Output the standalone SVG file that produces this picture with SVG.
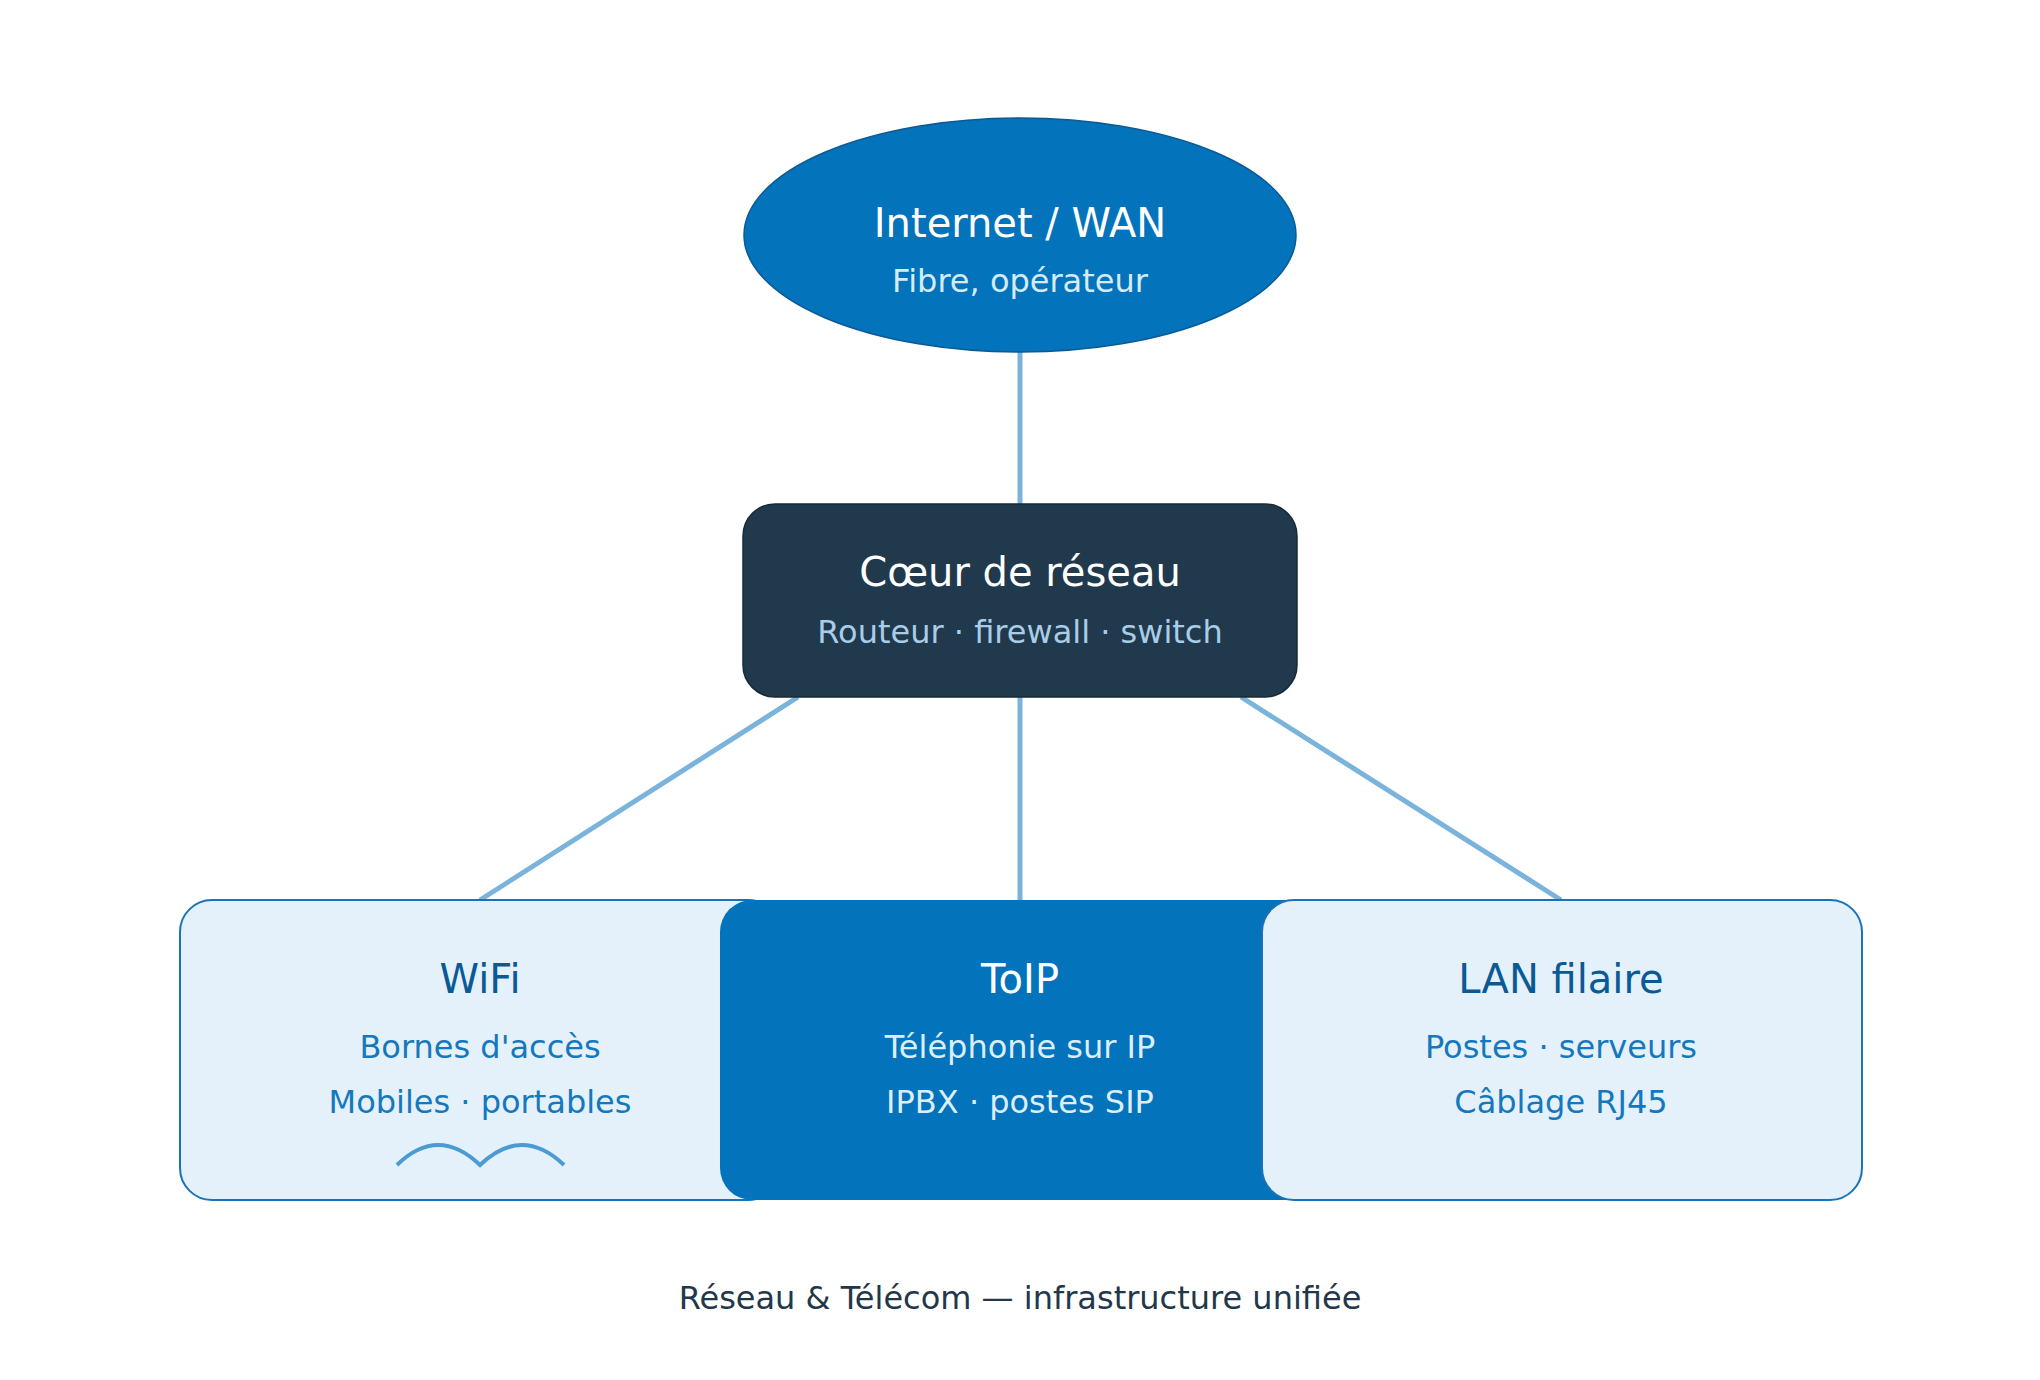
<svg xmlns="http://www.w3.org/2000/svg" width="2040" height="1380" viewBox="0 0 2040 1380">
<style>
text{font-family:"DejaVu Sans","Liberation Sans",sans-serif;text-anchor:middle}
.t{font-size:40px}
.s{font-size:32px}
.c{stroke:#7ab4dc;stroke-width:5;fill:none}
.lp{fill:#e4f1fb;stroke:#1a73b8;stroke-width:2}
</style>
<rect width="2040" height="1380" fill="#fff"/>
<g id="connectors">
<line class="c" x1="1020" y1="352" x2="1020" y2="504"/>
<line class="c" x1="798" y1="697" x2="480" y2="900"/>
<line class="c" x1="1020" y1="697" x2="1020" y2="900"/>
<line class="c" x1="1241" y1="697" x2="1561" y2="900"/>
</g>
<g id="wan">
<ellipse cx="1020" cy="235" rx="276" ry="117" fill="#0373bb" stroke="#0a5a96" stroke-width="1.5"/>
<text class="t" x="1020" y="237" fill="#fff">Internet / WAN</text>
<text class="s" x="1020" y="292" fill="#d6ebf8">Fibre, opérateur</text>
</g>
<g id="core">
<rect x="743" y="504" width="554" height="193" rx="32" fill="#20394d" stroke="#172a38" stroke-width="1.5"/>
<text class="t" x="1020" y="586" fill="#fff">Cœur de réseau</text>
<text class="s" x="1020" y="643" fill="#a9cde6">Routeur · firewall · switch</text>
</g>
<g id="wifi">
<rect class="lp" x="180" y="900" width="600" height="300" rx="32"/>
<text class="t" x="480" y="993" fill="#0a5a96">WiFi</text>
<text class="s" x="480" y="1058" fill="#1578be">Bornes d'accès</text>
<text class="s" x="480" y="1113" fill="#1578be">Mobiles · portables</text>
<path d="M397 1165 Q438 1125 480 1165 Q522 1125 564 1165" fill="none" stroke="#4a9ad4" stroke-width="4"/>
</g>
<g id="toip">
<rect x="720" y="900" width="600" height="300" rx="32" fill="#0373bb"/>
<text class="t" x="1020" y="993" fill="#fff">ToIP</text>
<text class="s" x="1020" y="1058" fill="#dceefa">Téléphonie sur IP</text>
<text class="s" x="1020" y="1113" fill="#dceefa">IPBX · postes SIP</text>
</g>
<g id="lan">
<rect class="lp" x="1262" y="900" width="600" height="300" rx="32"/>
<text class="t" x="1561" y="993" fill="#0a5a96">LAN filaire</text>
<text class="s" x="1561" y="1058" fill="#1578be">Postes · serveurs</text>
<text class="s" x="1561" y="1113" fill="#1578be">Câblage RJ45</text>
</g>
<text class="s" x="1020" y="1309" fill="#22384a">Réseau &amp; Télécom — infrastructure unifiée</text>
</svg>
